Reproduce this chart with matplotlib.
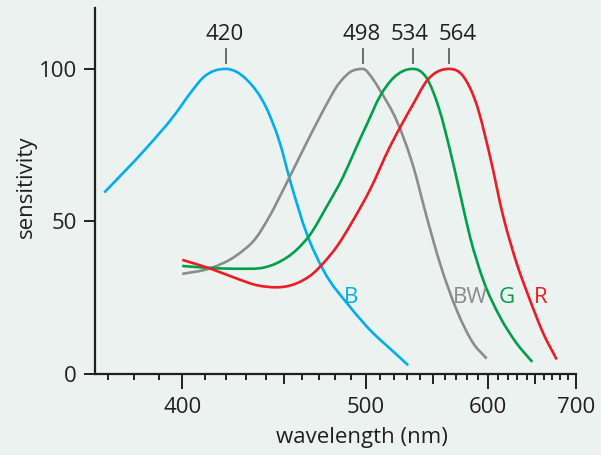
import numpy as np
import matplotlib
matplotlib.use("Agg")
import matplotlib.pyplot as plt
from matplotlib.path import Path
from matplotlib.patches import PathPatch
from matplotlib.ticker import FixedLocator, FuncFormatter

# ---------------------- Data ----------------------
blue_wl = [368.7, 384.4, 396.8, 404.1, 409.4, 420.0, 430.2, 440.5, 447.6, 453.2,
           462.7, 472.6, 489.4, 505.1, 517.0, 530.6]
blue_s = [59.4, 73.5, 85.0, 92.6, 97.2, 100.0, 96.5, 87.0, 75.7, 63.5,
          46.0, 34.0, 21.9, 13.2, 8.2, 2.7]

gray_wl = [400.0, 412.4, 425.2, 435.3, 442.2, 451.3, 460.7, 470.6, 476.7, 480.9, 485.1,
           489.4, 498.0, 505.1, 509.8, 521.9, 534.5, 545.1, 556.1, 570.6, 585.7, 598.4]
gray_s = [32.7, 34.5, 38.8, 44.8, 51.8, 62.5, 73.5, 84.3, 90.4, 94.2, 96.9,
          98.9, 100.0, 96.5, 93.0, 83.0, 68.0, 51.5, 36.2, 20.8, 9.9, 4.9]

green_wl = [400.0, 417.1, 433.5, 445.8, 456.9, 464.6, 474.7, 485.1, 493.8, 500.6, 509.8,
            519.4, 534.0, 545.1, 556.1, 564.6, 573.5, 582.6, 595.1, 611.7, 629.2, 646.5]
green_s = [35.3, 34.5, 34.4, 36.2, 40.6, 45.5, 54.8, 64.7, 74.5, 81.7, 91.0,
           97.0, 100.0, 97.0, 86.0, 73.5, 59.2, 44.9, 30.7, 18.6, 9.9, 3.8]

red_wl = [400.0, 412.4, 425.2, 435.3, 445.8, 456.9, 466.6, 472.6, 480.9, 491.6, 502.8,
          517.0, 525.6, 534.5, 545.1, 564.0, 576.4, 588.8, 601.7, 615.1, 629.2, 643.9,
          659.2, 675.5]
red_s = [37.3, 34.5, 31.2, 29.0, 28.3, 29.6, 32.9, 36.2, 41.6, 50.4, 60.3,
         74.5, 81.7, 88.5, 96.0, 100.0, 97.6, 88.3, 71.3, 51.5, 36.2, 24.1,
         13.2, 4.6]

peaks = [420, 498, 534, 564]
peak_label_shift = [-1, -1, -3, 8]   # px, labels sit slightly off their tick
colors = ["#00AEEF", "#8C8C8C", "#00A04B", "#ED1C24"]

curve_names = ["B", "BW", "G", "R"]
name_wl = [490.0, 582.6, 618.6, 656.2]
name_s = 25.0

x_major = [400, 500, 600, 700]
x_medium = [450, 550, 650]
x_minor = [w for w in range(370, 700, 10) if w % 50 != 0]


def fwd(x):
    return -1000.0 / np.asarray(x, dtype=float)


def inv(u):
    return -1000.0 / np.asarray(u, dtype=float)


def hermite_slopes(x, y):
    # three-point slopes, flat at local extrema
    h = np.diff(x)
    d = np.diff(y) / h
    m = np.zeros_like(y)
    m[0], m[-1] = d[0], d[-1]
    for k in range(1, len(x) - 1):
        if d[k - 1] * d[k] <= 0:
            m[k] = 0.0
        else:
            m[k] = (h[k] * d[k - 1] + h[k - 1] * d[k]) / (h[k - 1] + h[k])
    return m


def smooth_path(wl, s):
    # cubic through the read points, built in scaled (1/wavelength) space
    u = fwd(wl)
    y = np.asarray(s, dtype=float)
    m = hermite_slopes(u, y)
    verts = [(wl[0], y[0])]
    codes = [Path.MOVETO]
    for i in range(len(u) - 1):
        h = u[i + 1] - u[i]
        c1 = (inv(u[i] + h / 3), y[i] + m[i] * h / 3)
        c2 = (inv(u[i + 1] - h / 3), y[i + 1] - m[i + 1] * h / 3)
        verts += [c1, c2, (wl[i + 1], y[i + 1])]
        codes += [Path.CURVE4] * 3
    return Path(verts, codes)


# ---------------------- Style ----------------------
bg = "#ECF2F0"
ink = "#231F20"
plt.rcParams["font.family"] = ["Open Sans", "DejaVu Sans"]
plt.rcParams["font.size"] = 16

fig = plt.figure(figsize=(6.01, 4.55), dpi=100, facecolor=bg)
ax = fig.add_axes([95 / 601, 1 - 373.5 / 455, (575.7 - 95) / 601, (373.5 - 8) / 455])
ax.set_facecolor(bg)

# wavenumber-like axis (1/wavelength)
ax.set_xscale("function", functions=(fwd, inv))
ax.set_xlim(365.3, 700)
ax.set_ylim(0, 120)

for wl, s, c in zip([blue_wl, gray_wl, green_wl, red_wl],
                    [blue_s, gray_s, green_s, red_s], colors):
    ax.add_patch(PathPatch(smooth_path(wl, s), fill=False, edgecolor=c, lw=1.9,
                           capstyle="butt", joinstyle="round"))

# peak markers
ax.vlines(peaks, 101.7, 107.0, color="#555555", lw=1.2)
for p, dx in zip(peaks, peak_label_shift):
    ax.annotate(str(p), xy=(p, 111.3), xytext=(dx * 0.72, 0), textcoords="offset points",
                ha="center", va="center", color=ink, fontsize=16)

for name, wl, c in zip(curve_names, name_wl, colors):
    ax.text(wl, name_s, name, ha="center", va="center", color=c, fontsize=16)

# ---------------------- Axes ----------------------
for side in ["top", "right"]:
    ax.spines[side].set_visible(False)
for side in ["left", "bottom"]:
    ax.spines[side].set_color(ink)
    ax.spines[side].set_linewidth(1.6)

ax.xaxis.set_major_locator(FixedLocator(x_major + x_medium))
ax.xaxis.set_major_formatter(FuncFormatter(lambda v, pos: "" if int(round(v)) % 100 else f"{int(round(v))}"))
ax.xaxis.set_minor_locator(FixedLocator(x_minor))
ax.tick_params(axis="x", which="major", direction="out", length=11, width=1.4, color=ink,
               pad=6, labelsize=16, labelcolor=ink)
ax.tick_params(axis="x", which="minor", direction="out", length=4, width=1.4, color=ink)

ax.set_yticks([0, 50, 100])
ax.tick_params(axis="y", direction="out", length=8, width=1.4, color=ink, pad=5,
               labelsize=16, labelcolor=ink)

fig.canvas.draw()
for t in ax.xaxis.get_major_ticks():
    if int(round(t.get_loc())) in x_medium:
        t.tick1line.set_markersize(7)

ax.set_xlabel("wavelength (nm)", color=ink, fontsize=16)
ax.xaxis.set_label_coords((362 - 95) / 480.7, (373.5 - 427) / 365.5)
ax.set_ylabel("sensitivity", color=ink, fontsize=16)
ax.yaxis.set_label_coords((37 - 95) / 480.7, (373.5 - 187) / 365.5)

fig.savefig("out.png", dpi=100, facecolor=bg)
